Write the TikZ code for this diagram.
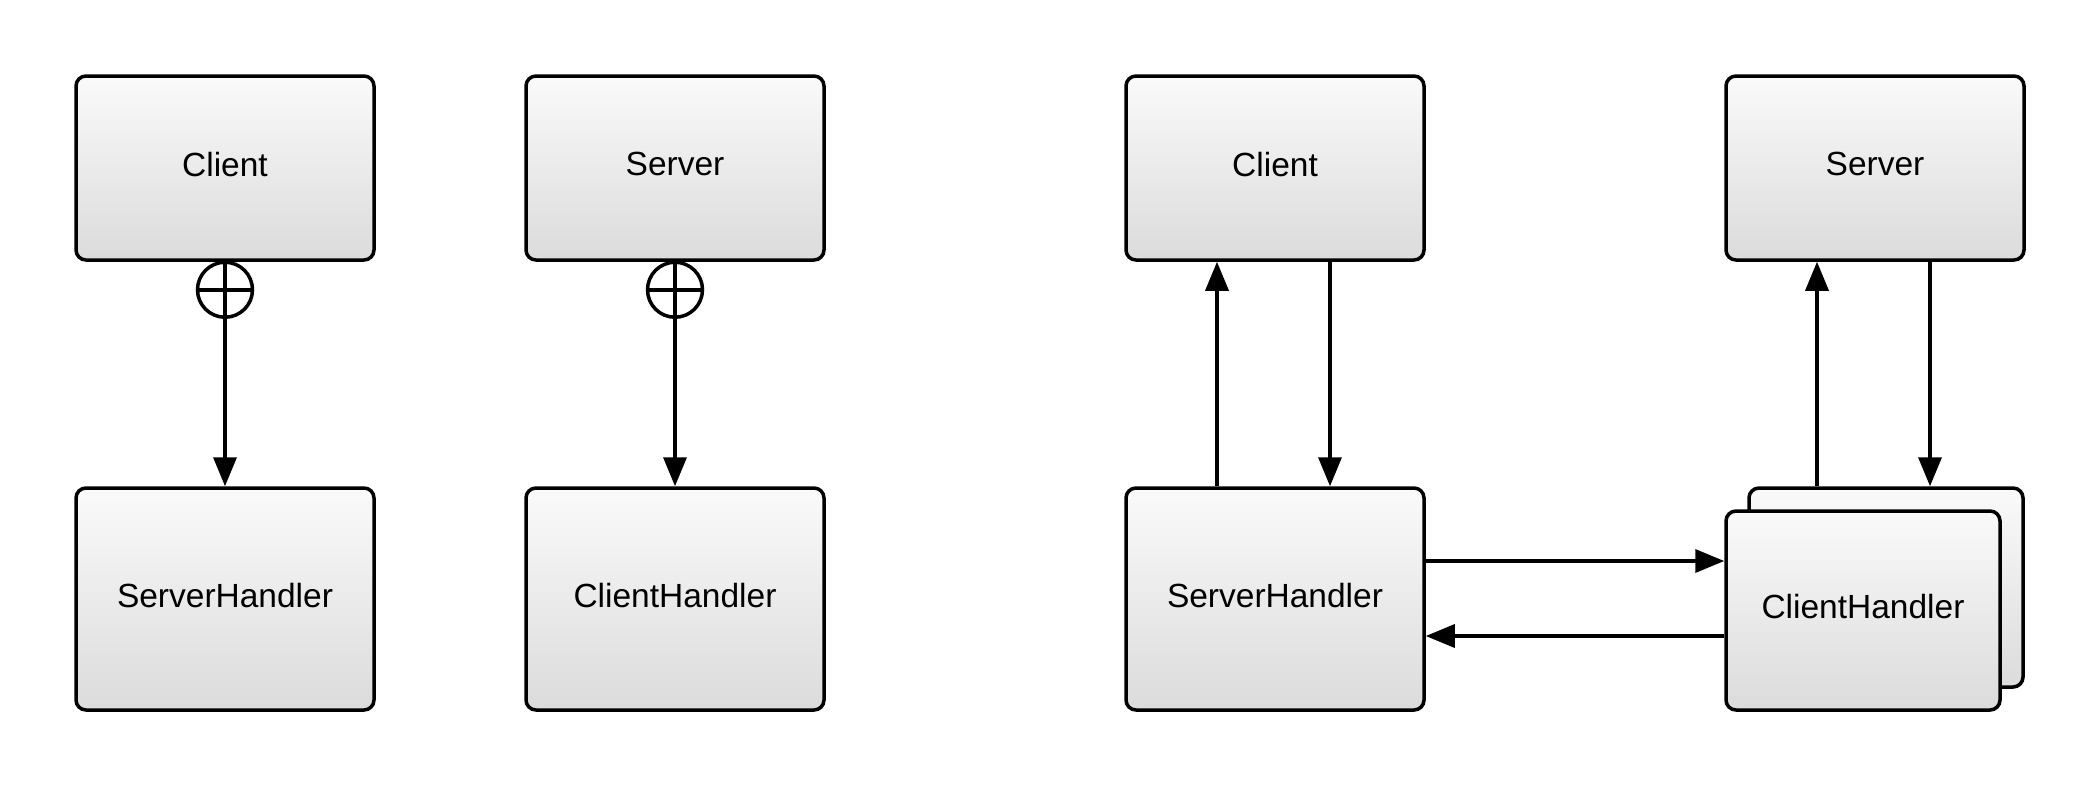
\documentclass[tikz,border=0pt]{standalone}
\usepackage{fontspec}
\setmainfont{Liberation Sans}
\usetikzlibrary{arrows.meta,calc,shadings}
\newcommand{\lbl}[1]{\raisebox{8pt}{#1}}
\begin{document}
\begin{tikzpicture}[x=1pt,y=-1pt,
  box/.style={draw=black,line width=3.5pt,rounded corners=10pt,minimum width=298pt,minimum height=184pt,
    top color=white!98!black,bottom color=white!86!black,inner sep=0pt,
    font=\fontsize{33.5}{40}\selectfont},
  tallbox/.style={box,minimum height=222pt},
  arr/.style={line width=3.5pt,-{Triangle[length=29pt,width=23pt]}},
  plus/.style={draw=black,line width=3.5pt,circle,minimum size=55pt,inner sep=0pt,fill=white,
    path picture={\draw[line width=3.5pt] (path picture bounding box.north) -- (path picture bounding box.south)
      (path picture bounding box.west) -- (path picture bounding box.east);}}]
\useasboundingbox (0,0) rectangle (2100,788);
% left part
\node[box] (lc) at (225,168) {\lbl{Client}};
\node[box] (ls) at (675,168) {\lbl{Server}};
\node[tallbox] (lsh) at (225,599) {\lbl{ServerHandler}};
\node[tallbox] (lch) at (675,599) {\lbl{ClientHandler}};
\node[plus] (p1) at ([yshift=-28pt]lc.south) {};
\node[plus] (p2) at ([yshift=-28pt]ls.south) {};
\draw[arr] (p1.south) -- (lsh.north);
\draw[arr] (p2.south) -- (lch.north);
% right part
\node[box] (rc) at (1275,168) {\lbl{Client}};
\node[box] (rs) at (1875,168) {\lbl{Server}};
\node[tallbox] (rsh) at (1275,599) {\lbl{ServerHandler}};
\node[box,minimum width=274pt,minimum height=199pt] (chb) at (1886,587.5) {};
\node[box,minimum width=274pt,minimum height=199pt] (chf) at (1863,610.5) {\lbl{ClientHandler}};
\draw[arr] ([xshift=-58pt]rsh.north) -- ([xshift=-58pt]rc.south);
\draw[arr] ([xshift=55pt]rc.south) -- ([xshift=55pt]rsh.north);
\draw[arr] (chb.north -| 1817,0) -- ([xshift=-58pt]rs.south);
\draw[arr] ([xshift=55pt]rs.south) -- (chb.north -| 1930,0);
\draw[arr] ([yshift=38pt]rsh.east) -- ([yshift=38pt]rsh.east -| chf.west);
\draw[arr] ([yshift=-37pt]rsh.east -| chf.west) -- ([yshift=-37pt]rsh.east);
\end{tikzpicture}
\end{document}
